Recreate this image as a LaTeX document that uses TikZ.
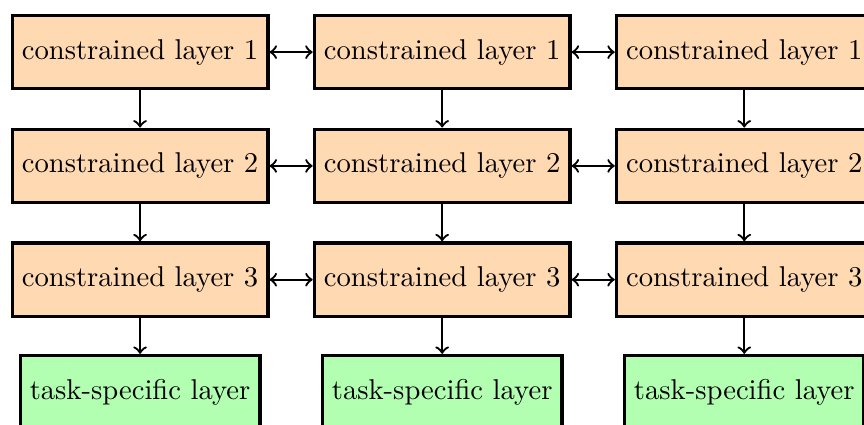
\documentclass[tikz,border=0pt]{standalone}
\usepackage{tikz}
\usetikzlibrary{arrows,positioning}
\tikzset{
    constr/.style={
           rectangle,
           draw=black, very thick,
           fill=orange!30,
           minimum height=0.9cm,
           },
}
\tikzset{
    task/.style={
           rectangle,
           draw=black, very thick,
           fill=green!30,
           minimum height=0.9cm,
           },
}
\tikzset{
    link/.style={thick, <->},
    down/.style={thick, ->},
}
\begin{document}
\begin{tikzpicture}
\useasboundingbox (-1.72,0.64) rectangle (8.89,-4.57);
\node[constr] (c11) at (0,0) {constrained layer 1};
\node[constr, right=0.53cm of c11] (c12) {constrained layer 1};
\node[constr, right=0.53cm of c12] (c13) {constrained layer 1};
\node[constr, below=0.455cm of c11] (c21) {constrained layer 2};
\node[constr, right=0.53cm of c21] (c22) {constrained layer 2};
\node[constr, right=0.53cm of c22] (c23) {constrained layer 2};
\node[constr, below=0.455cm of c21] (c31) {constrained layer 3};
\node[constr, right=0.53cm of c31] (c32) {constrained layer 3};
\node[constr, right=0.53cm of c32] (c33) {constrained layer 3};
\node[task, below=0.44cm of c31] (t1) {task-specific layer};
\node[task, below=0.44cm of c32] (t2) {task-specific layer};
\node[task, below=0.44cm of c33] (t3) {task-specific layer};
% sharing between columns
\draw[link] (c11) -- (c12);
\draw[link] (c12) -- (c13);
\draw[link] (c21) -- (c22);
\draw[link] (c22) -- (c23);
\draw[link] (c31) -- (c32);
\draw[link] (c32) -- (c33);
% down each column
\draw[down] (c11) -- (c21);
\draw[down] (c21) -- (c31);
\draw[down] (c31) -- (t1);
\draw[down] (c12) -- (c22);
\draw[down] (c22) -- (c32);
\draw[down] (c32) -- (t2);
\draw[down] (c13) -- (c23);
\draw[down] (c23) -- (c33);
\draw[down] (c33) -- (t3);
\end{tikzpicture}
\end{document}
